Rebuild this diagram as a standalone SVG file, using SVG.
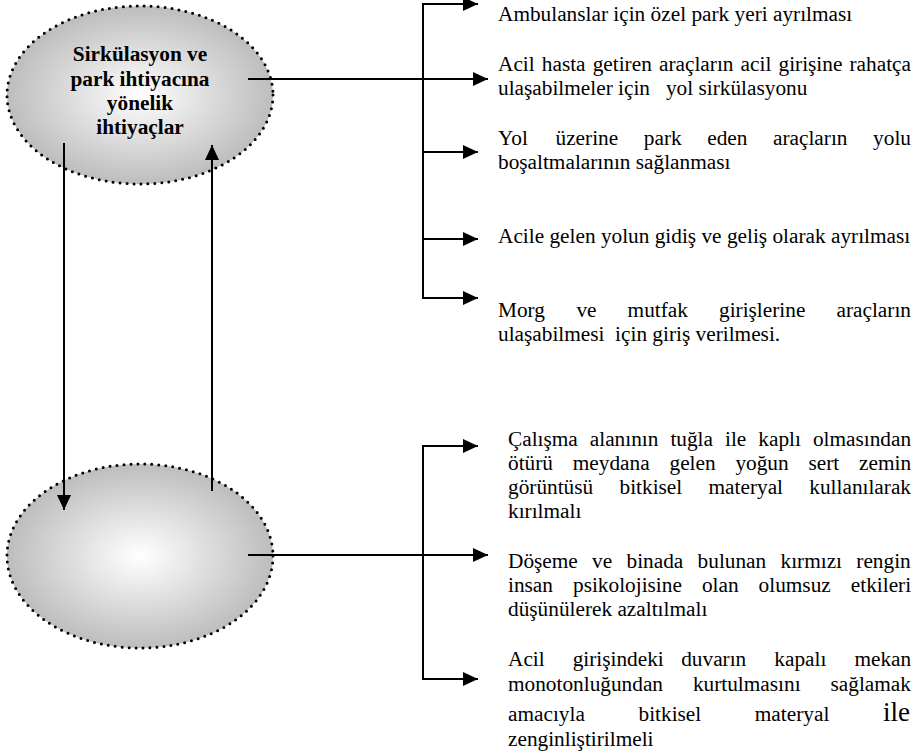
<svg xmlns="http://www.w3.org/2000/svg" width="920" height="754" viewBox="0 0 920 754">
<defs>
<radialGradient id="g" cx="0.5" cy="0.5" r="0.5">
<stop offset="0" stop-color="#ffffff"/>
<stop offset="1" stop-color="#bdbdbd"/>
</radialGradient>
<marker id="ah" viewBox="0 0 15 14" refX="15" refY="7" markerWidth="15" markerHeight="14" markerUnits="userSpaceOnUse" orient="auto">
<path d="M0,0 L15,7 L0,14 Z" fill="#000"/>
</marker>
<style>
.ell{fill:url(#g);stroke:#000;stroke-width:3;stroke-dasharray:0 7;stroke-linecap:round}
.ln{fill:none;stroke:#000;stroke-width:2}
.t{font-family:"Liberation Serif","Times New Roman",serif;font-size:21.3px;fill:#000}
.h{font-family:"Liberation Serif","Times New Roman",serif;font-size:21.3px;font-weight:bold;fill:#000;text-anchor:middle}
</style>
</defs>
<g id="node-top">
<ellipse class="ell" cx="140" cy="95" rx="133" ry="89"/>
<text class="h"><tspan x="140" y="61">Sirkülasyon ve</tspan><tspan x="140" y="86">park ihtiyacına</tspan><tspan x="140" y="110">yönelik</tspan><tspan x="140" y="134">ihtiyaçlar</tspan></text>
</g>
<g id="node-bottom">
<ellipse class="ell" cx="140" cy="556" rx="133" ry="92"/>
</g>
<g id="connectors">
<path class="ln" d="M64,143 V510" marker-end="url(#ah)"/>
<path class="ln" d="M212,491 V145" marker-end="url(#ah)"/>
<path class="ln" d="M248,79 H488" marker-end="url(#ah)"/>
<path class="ln" d="M478,4 H423 V298 H478" />
<path class="ln" d="M423,4 H478" marker-end="url(#ah)"/>
<path class="ln" d="M423,152 H478" marker-end="url(#ah)"/>
<path class="ln" d="M423,239 H478" marker-end="url(#ah)"/>
<path class="ln" d="M423,298 H478" marker-end="url(#ah)"/>
<path class="ln" d="M248,555 H488" marker-end="url(#ah)"/>
<path class="ln" d="M478,446 H423 V679 H478"/>
<path class="ln" d="M423,446 H478" marker-end="url(#ah)"/>
<path class="ln" d="M423,679 H478" marker-end="url(#ah)"/>
</g>
<g id="text-top">
<text class="t" x="498" y="21">Ambulanslar için özel park yeri ayrılması</text>
<text class="t" y="71"><tspan x="498">Acil</tspan><tspan x="541.8">hasta</tspan><tspan x="592.7">getiren</tspan><tspan x="659">araçların</tspan><tspan x="740.6">acil</tspan><tspan x="778.5">girişine</tspan><tspan x="849.5">rahatça</tspan></text>
<text class="t" x="498" y="95" xml:space="preserve">ulaşabilmeler için   yol sirkülasyonu</text>
<text class="t" y="145"><tspan x="498">Yol</tspan><tspan x="555.5">üzerine</tspan><tspan x="643.8">park</tspan><tspan x="707.2">eden</tspan><tspan x="773">araçların</tspan><tspan x="873.1">yolu</tspan></text>
<text class="t" x="498" y="169">boşaltmalarının sağlanması</text>
<text class="t" x="498" y="243">Acile gelen yolun gidiş ve geliş olarak ayrılması</text>
<text class="t" y="317"><tspan x="498">Morg</tspan><tspan x="576.4">ve</tspan><tspan x="627.6">mutfak</tspan><tspan x="719">girişlerine</tspan><tspan x="836.5">araçların</tspan></text>
<text class="t" x="498" y="341" xml:space="preserve">ulaşabilmesi  için giriş verilmesi.</text>
</g>
<g id="text-bottom">
<text class="t" y="446"><tspan x="508">Çalışma</tspan><tspan x="589.8">alanının</tspan><tspan x="670.4">tuğla</tspan><tspan x="725">ile</tspan><tspan x="758.3">kaplı</tspan><tspan x="812.9">olmasından</tspan></text>
<text class="t" y="470"><tspan x="508">ötürü</tspan><tspan x="572.8">meydana</tspan><tspan x="669.5">gelen</tspan><tspan x="735.4">yoğun</tspan><tspan x="808.5">sert</tspan><tspan x="859.1">zemin</tspan></text>
<text class="t" y="494"><tspan x="508">görüntüsü</tspan><tspan x="619.5">bitkisel</tspan><tspan x="708.5">materyal</tspan><tspan x="809.3">kullanılarak</tspan></text>
<text class="t" x="508" y="518">kırılmalı</text>
<text class="t" y="568"><tspan x="508">Döşeme</tspan><tspan x="592.1">ve</tspan><tspan x="626.5">binada</tspan><tspan x="697.6">bulunan</tspan><tspan x="780.5">kırmızı</tspan><tspan x="856.3">rengin</tspan></text>
<text class="t" y="592"><tspan x="508">insan</tspan><tspan x="573">psikolojisine</tspan><tspan x="701.9">olan</tspan><tspan x="758.6">olumsuz</tspan><tspan x="850.8">etkileri</tspan></text>
<text class="t" x="508" y="616">düşünülerek azaltılmalı</text>
<text class="t" y="666"><tspan x="508">Acil</tspan><tspan x="572.7">girişindeki</tspan><tspan x="681.2">duvarın</tspan><tspan x="774.3">kapalı</tspan><tspan x="854.4">mekan</tspan></text>
<text class="t" y="691"><tspan x="508">monotonluğundan</tspan><tspan x="692.9">kurtulmasını</tspan><tspan x="830.5">sağlamak</tspan></text>
<text class="t" y="721"><tspan x="508">amacıyla</tspan><tspan x="638.5">bitkisel</tspan><tspan x="754.8">materyal</tspan><tspan x="883" style="font-size:27px">ile</tspan></text>
<text class="t" x="508" y="746">zenginliştirilmeli</text>
</g>
</svg>
